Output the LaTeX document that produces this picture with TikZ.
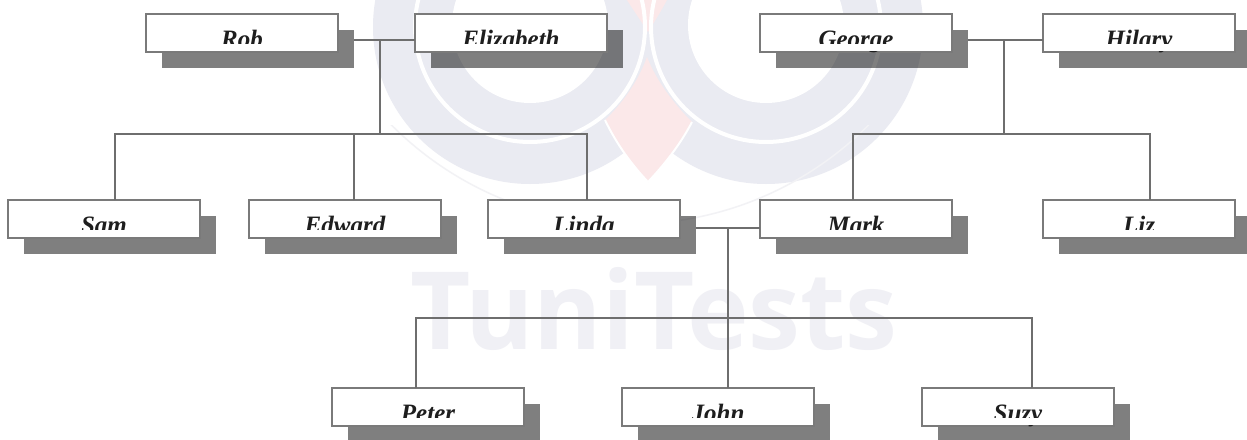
\documentclass[tikz,border=0pt]{standalone}
\usepackage{fontspec}
\setmainfont{Liberation Serif}
\newfontfamily\wmfont{Open Sans}
\definecolor{ringgray}{HTML}{EAEBF2}
\definecolor{ringred}{HTML}{FBE8E9}
\definecolor{wmtext}{HTML}{F0F0F5}
\definecolor{faintarc}{HTML}{F2F2F5}
\definecolor{linegray}{HTML}{6E6E6E}
\definecolor{boxline}{HTML}{7A7A7A}
\definecolor{inkdark}{HTML}{1E1E1E}
\tikzset{
  personbox/.style={draw=boxline,line width=1.8pt,fill=white,minimum width=192pt,minimum height=38pt,
    inner sep=0pt,outer sep=0pt,text=inkdark,font=\fontsize{25}{25}\selectfont\bfseries\itshape,
    text height=29.5pt,text depth=0pt},
  personshadow/.style={fill=black,fill opacity=0.5,minimum width=192pt,minimum height=38pt,inner sep=0pt,outer sep=0pt},
  kinline/.style={draw=linegray,line width=1.8pt},
  wmring/.style={draw=white,line width=4pt}
}
\newcommand{\personshadownode}[3]{\node[personshadow] (#1S) at (#2+16,#3+16) {};}
\newcommand{\personnode}[4]{%
  \node[personbox] (#1) at (#2,#3) {#4};
  \fill[white] ([shift={(2pt,1.5pt)}]#1.south west) rectangle ([shift={(-2pt,8pt)}]#1.south east);
}
\begin{document}
\begin{tikzpicture}[x=1pt,y=-1pt]
\useasboundingbox (0,0) rectangle (1247,439);
\fill[white] (0,0) rectangle (1247,439);
% watermark
\begin{scope}
  \clip (0,0) rectangle (648,439);
  \fill[ringgray] (530,27) circle[radius=157];
\end{scope}
\begin{scope}
  \clip (648,0) rectangle (1247,439);
  \fill[ringgray] (766,27) circle[radius=157];
\end{scope}
\begin{scope}
  \clip (0,125) rectangle (1247,439);
  \draw[faintarc,line width=1.5pt] (630,-113) circle[radius=337];
\end{scope}
\fill[ringred] (648,182) .. controls (632,165) and (617,145) .. (605,120)
   .. controls (622,104) and (638,82) .. (647,57)
   .. controls (657,82) and (674,104) .. (692,122)
   .. controls (680,145) and (664,165) .. (648,182) -- cycle;
\fill[ringred] (627,0) .. controls (634,11) and (641,21) .. (648,32)
   .. controls (655,21) and (661,11) .. (667,0) -- cycle;
\draw[wmring] (530,27) circle[radius=115];
\draw[wmring] (766,27) circle[radius=115];
\fill[white] (530,25) circle[radius=78];
\fill[white] (766,25) circle[radius=78];
\draw[white,line width=2pt] (648,182) .. controls (632,165) and (617,145) .. (605,120);
\draw[white,line width=2pt] (648,182) .. controls (664,165) and (680,145) .. (692,122);
\node[text=wmtext,font=\wmfont\bfseries\fontsize{108}{108}\selectfont,inner sep=0pt,xscale=0.965] (wm) at (654,309) {TuniTests};
% shadows
\personshadownode{Rob}{242}{33}
\personshadownode{Elizabeth}{511}{33}
\personshadownode{George}{856}{33}
\personshadownode{Hilary}{1139}{33}
\personshadownode{Sam}{104}{219}
\personshadownode{Edward}{345}{219}
\personshadownode{Linda}{584}{219}
\personshadownode{Mark}{856}{219}
\personshadownode{Liz}{1139}{219}
\personshadownode{Peter}{428}{407}
\personshadownode{John}{718}{407}
\personshadownode{Suzy}{1018}{407}
% boxes
\personnode{Rob}{242}{33}{Rob}
\personnode{Elizabeth}{511}{33}{Elizabeth}
\personnode{George}{856}{33}{George}
\personnode{Hilary}{1139}{33}{Hilary}
\personnode{Sam}{104}{219}{Sam}
\personnode{Edward}{345}{219}{Edward}
\personnode{Linda}{584}{219}{Linda}
\personnode{Mark}{856}{219}{Mark}
\personnode{Liz}{1139}{219}{Liz}
\personnode{Peter}{428}{407}{Peter}
\personnode{John}{718}{407}{John}
\personnode{Suzy}{1018}{407}{Suzy}
% connector junctions
\coordinate (j1) at (380,40);
\coordinate (b1) at (380,134);
\coordinate (j2) at (1004,40);
\coordinate (b2) at (1004,134);
\coordinate (j3) at (728,228);
\coordinate (b3) at (728,318);
% connectors
\draw[kinline] (RobS.east |- j1) -- (Elizabeth.west |- j1);
\draw[kinline] (j1) -- (b1);
\draw[kinline] ([xshift=11pt]Sam.north) |- (b1) -| ([xshift=3pt]Linda.north);
\draw[kinline] ([xshift=9pt]Edward.north) -- ([xshift=9pt]Edward.north |- b1);
\draw[kinline] (GeorgeS.east |- j2) -- (Hilary.west |- j2);
\draw[kinline] (j2) -- (b2);
\draw[kinline] ([xshift=-3pt]Mark.north) |- (b2) -| ([xshift=11pt]Liz.north);
\draw[kinline] (LindaS.east |- j3) -- (Mark.west |- j3);
\draw[kinline] (j3) -- ([xshift=10pt]John.north);
\draw[kinline] ([xshift=-12pt]Peter.north) |- (b3) -| ([xshift=14pt]Suzy.north);
\end{tikzpicture}
\end{document}
